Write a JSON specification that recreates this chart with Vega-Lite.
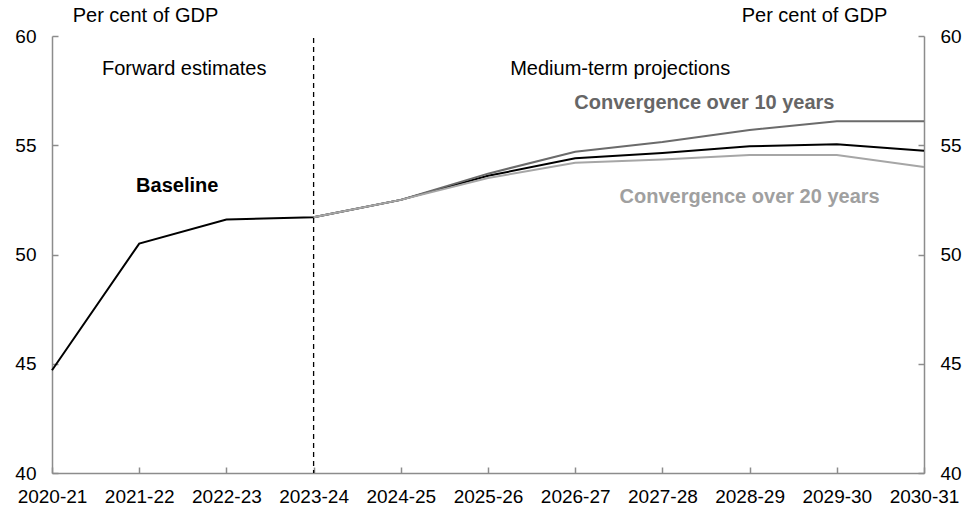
{
  "$schema": "https://vega.github.io/schema/vega-lite/v6.json",
  "autosize": "none",
  "width": 872,
  "height": 437,
  "padding": {"left": 52, "top": 36, "right": 48, "bottom": 45},
  "background": "white",
  "config": {
    "view": {"stroke": null},
    "font": "Liberation Sans",
    "axis": {
      "labelFont": "Liberation Sans",
      "titleFont": "Liberation Sans",
      "labelFontSize": 19,
      "labelColor": "#000000",
      "titleFontSize": 20,
      "titleFontWeight": "normal",
      "titleColor": "#000000",
      "domainColor": "#8c8c8c",
      "domainWidth": 1.5,
      "tickColor": "#8c8c8c",
      "tickWidth": 1.5,
      "grid": false
    }
  },
  "resolve": {"scale": {"y": "independent"}},
  "layer": [
    {
      "data": {
        "values": [
          {"series": "Baseline", "year": "2020-21", "value": 44.7},
          {"series": "Baseline", "year": "2021-22", "value": 50.5},
          {"series": "Baseline", "year": "2022-23", "value": 51.6},
          {"series": "Baseline", "year": "2023-24", "value": 51.7},
          {"series": "Baseline", "year": "2024-25", "value": 52.5},
          {"series": "Baseline", "year": "2025-26", "value": 53.6},
          {"series": "Baseline", "year": "2026-27", "value": 54.4},
          {"series": "Baseline", "year": "2027-28", "value": 54.65},
          {"series": "Baseline", "year": "2028-29", "value": 54.95},
          {"series": "Baseline", "year": "2029-30", "value": 55.05},
          {"series": "Baseline", "year": "2030-31", "value": 54.75},
          {"series": "Convergence over 10 years", "year": "2023-24", "value": 51.7},
          {"series": "Convergence over 10 years", "year": "2024-25", "value": 52.5},
          {"series": "Convergence over 10 years", "year": "2025-26", "value": 53.7},
          {"series": "Convergence over 10 years", "year": "2026-27", "value": 54.7},
          {"series": "Convergence over 10 years", "year": "2027-28", "value": 55.15},
          {"series": "Convergence over 10 years", "year": "2028-29", "value": 55.7},
          {"series": "Convergence over 10 years", "year": "2029-30", "value": 56.1},
          {"series": "Convergence over 10 years", "year": "2030-31", "value": 56.1},
          {"series": "Convergence over 20 years", "year": "2023-24", "value": 51.7},
          {"series": "Convergence over 20 years", "year": "2024-25", "value": 52.5},
          {"series": "Convergence over 20 years", "year": "2025-26", "value": 53.5},
          {"series": "Convergence over 20 years", "year": "2026-27", "value": 54.2},
          {"series": "Convergence over 20 years", "year": "2027-28", "value": 54.35},
          {"series": "Convergence over 20 years", "year": "2028-29", "value": 54.55},
          {"series": "Convergence over 20 years", "year": "2029-30", "value": 54.55},
          {"series": "Convergence over 20 years", "year": "2030-31", "value": 54.0}
        ]
      },
      "mark": {"type": "line", "strokeWidth": 2},
      "encoding": {
        "x": {
          "field": "year",
          "type": "ordinal",
          "scale": {"type": "point", "padding": 0, "domain": ["2020-21","2021-22","2022-23","2023-24","2024-25","2025-26","2026-27","2027-28","2028-29","2029-30","2030-31"]},
          "axis": {"title": null, "labelAngle": 0, "tickSize": -6, "labelPadding": 20, "labelBaseline": "top"}
        },
        "y": {
          "field": "value",
          "type": "quantitative",
          "scale": {"domain": [40, 60], "nice": false, "zero": false},
          "axis": {
            "orient": "left",
            "values": [40, 45, 50, 55, 60],
            "tickSize": -6,
            "labelPadding": 22,
            "title": "Per cent of GDP",
            "titleAngle": 0,
            "titleAlign": "center",
            "titleBaseline": "middle",
            "titleX": 93,
            "titleY": -21
          }
        },
        "color": {
          "field": "series",
          "type": "nominal",
          "scale": {"domain": ["Convergence over 20 years", "Convergence over 10 years", "Baseline"], "range": ["#a6a6a6", "#6b6b6b", "#000000"]},
          "legend": null
        },
        "order": {"field": "series"}
      }
    },
    {
      "data": {"values": [{"year": "2023-24"}]},
      "mark": {"type": "rule", "color": "#000000", "strokeWidth": 1.3, "strokeDash": [5, 4], "y": 2},
      "encoding": {"x": {"field": "year", "type": "ordinal"}}
    },
    {
      "data": {"values": [{"label": "Baseline", "year": "2021-22", "value": 53.13}]},
      "mark": {"type": "text", "fontSize": 20, "fontWeight": "bold", "color": "#000000", "dx": 38},
      "encoding": {
        "x": {"field": "year", "type": "ordinal"},
        "y": {"field": "value", "type": "quantitative", "scale": {"domain": [40, 60], "nice": false, "zero": false},
          "axis": {
            "orient": "right",
            "values": [40, 45, 50, 55, 60],
            "tickSize": -6,
            "labelPadding": 22,
            "title": "Per cent of GDP",
            "titleAngle": 0,
            "titleAlign": "center",
            "titleBaseline": "middle",
            "titleX": -110,
            "titleY": -21
          }},
        "text": {"field": "label"}
      }
    },
    {
      "data": {"values": [{"label": "Forward estimates", "year": "2021-22", "value": 58.49}]},
      "mark": {"type": "text", "fontSize": 20, "color": "#000000", "dx": 45},
      "encoding": {
        "x": {"field": "year", "type": "ordinal"},
        "y": {"field": "value", "type": "quantitative", "scale": {"domain": [40, 60], "nice": false, "zero": false}, "axis": null},
        "text": {"field": "label"}
      }
    },
    {
      "data": {"values": [{"label": "Medium-term projections", "year": "2026-27", "value": 58.49}]},
      "mark": {"type": "text", "fontSize": 20, "color": "#000000", "dx": 45},
      "encoding": {
        "x": {"field": "year", "type": "ordinal"},
        "y": {"field": "value", "type": "quantitative", "scale": {"domain": [40, 60], "nice": false, "zero": false}, "axis": null},
        "text": {"field": "label"}
      }
    },
    {
      "data": {"values": [{"label": "Convergence over 10 years", "year": "2027-28", "value": 56.93}]},
      "mark": {"type": "text", "fontSize": 20, "fontWeight": "bold", "color": "#666666", "dx": 42},
      "encoding": {
        "x": {"field": "year", "type": "ordinal"},
        "y": {"field": "value", "type": "quantitative", "scale": {"domain": [40, 60], "nice": false, "zero": false}, "axis": null},
        "text": {"field": "label"}
      }
    },
    {
      "data": {"values": [{"label": "Convergence over 20 years", "year": "2028-29", "value": 52.63}]},
      "mark": {"type": "text", "fontSize": 20, "fontWeight": "bold", "color": "#a0a0a0", "dx": 0},
      "encoding": {
        "x": {"field": "year", "type": "ordinal"},
        "y": {"field": "value", "type": "quantitative", "scale": {"domain": [40, 60], "nice": false, "zero": false}, "axis": null},
        "text": {"field": "label"}
      }
    }
  ]
}
